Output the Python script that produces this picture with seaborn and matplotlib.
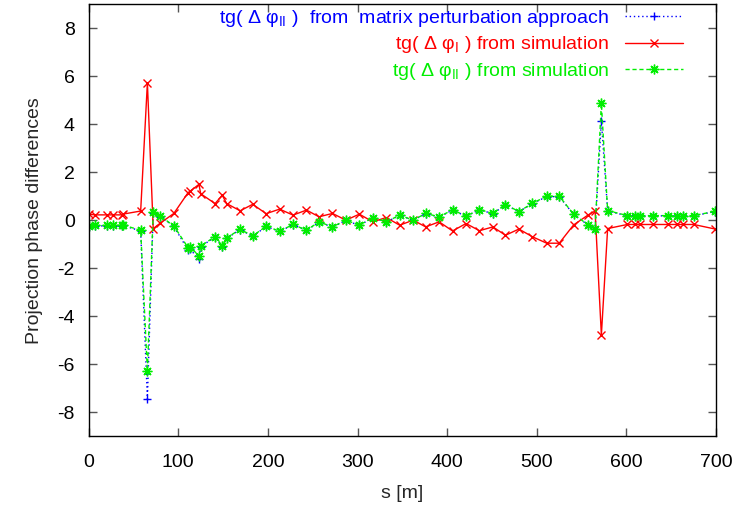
import numpy as np
import pandas as pd
import matplotlib
matplotlib.use("Agg")
import matplotlib.pyplot as plt
import seaborn as sns

# positions along the beamline [m]
s = [0, 7, 20, 27, 37, 38, 58, 65.5, 72, 80, 95, 111, 113, 123, 125, 141, 149, 154,
     169, 183, 198, 213, 228, 243, 257, 272, 287, 302, 317, 332, 347, 362, 376, 391,
     406, 421, 436, 451, 465, 480, 495, 511, 525, 541, 557, 565, 572, 579, 601, 610,
     615, 630, 646, 656, 663, 675, 699]

# tg(dphi_I) from simulation
phi1_sim = [0.25, 0.22, 0.22, 0.22, 0.22, 0.25, 0.38, 5.72, -0.35, -0.12, 0.28, 1.15, 1.2,
            1.49, 1.1, 0.69, 1.04, 0.69, 0.39, 0.66, 0.27, 0.46, 0.21, 0.42, 0.14, 0.28,
            0.0, 0.25, -0.07, 0.11, -0.21, 0.0, -0.28, -0.07, -0.45, -0.14, -0.44, -0.28,
            -0.63, -0.37, -0.69, -0.96, -0.96, -0.2, 0.21, 0.38, -4.79, -0.35, -0.18,
            -0.18, -0.18, -0.18, -0.18, -0.18, -0.18, -0.18, -0.37]

# tg(dphi_II) from simulation
phi2_sim = [-0.25, -0.22, -0.22, -0.22, -0.22, -0.2, -0.42, -6.28, 0.32, 0.17, -0.24, -1.15,
            -1.1, -1.49, -1.07, -0.69, -1.07, -0.74, -0.38, -0.66, -0.25, -0.46, -0.18,
            -0.42, -0.07, -0.28, 0.0, -0.21, 0.11, -0.07, 0.21, 0.0, 0.28, 0.14, 0.43, 0.17,
            0.44, 0.28, 0.65, 0.36, 0.7, 1.0, 1.0, 0.25, -0.19, -0.37, 4.86, 0.4, 0.19,
            0.19, 0.19, 0.19, 0.19, 0.19, 0.19, 0.19, 0.37]

# tg(dphi_II) from matrix perturbation approach
phi2_mat = [-0.27, -0.24, -0.24, -0.24, -0.24, -0.22, -0.45, -7.46, 0.3, 0.15, -0.26, -1.25,
            -1.2, -1.63, -1.1, -0.7, -1.1, -0.76, -0.39, -0.68, -0.26, -0.47, -0.19,
            -0.43, -0.08, -0.29, -0.01, -0.22, 0.1, -0.08, 0.2, 0.0, 0.27, 0.13, 0.42, 0.16,
            0.43, 0.27, 0.64, 0.35, 0.69, 0.98, 0.98, 0.24, -0.2, -0.38, 4.14, 0.38, 0.18,
            0.18, 0.18, 0.18, 0.18, 0.18, 0.18, 0.18, 0.36]

lab_mat = "tg( Δ φ$_{\\rm II}$ )  from  matrix perturbation approach"
lab_s1 = "tg( Δ φ$_{\\rm I}$ ) from simulation"
lab_s2 = "tg( Δ φ$_{\\rm II}$ ) from simulation"

green = "#00ee00"
df = pd.DataFrame({"s": s, "mat": phi2_mat, "s1": phi1_sim, "s2": phi2_sim})

sns.set_style("ticks")
plt.rcParams["font.family"] = ["Liberation Sans", "DejaVu Sans"]
plt.rcParams["mathtext.fontset"] = "custom"
plt.rcParams["mathtext.rm"] = "Liberation Sans"
plt.rcParams["mathtext.it"] = "Liberation Sans:italic"
plt.rcParams["axes.unicode_minus"] = False

fig, ax = plt.subplots(figsize=(7.39, 5.12), dpi=100)
fig.subplots_adjust(left=0.120, right=0.969, top=0.992, bottom=0.148)

sns.lineplot(data=df, x="s", y="mat", ax=ax, color="blue", linestyle=(0, (1, 2)),
             linewidth=1, marker="+", markersize=6, markeredgewidth=1,
             markeredgecolor="blue", estimator=None, sort=False, label=lab_mat)
sns.lineplot(data=df, x="s", y="s1", ax=ax, color="red", linestyle="-",
             linewidth=1, marker="x", markersize=5.5, markeredgewidth=1,
             markeredgecolor="red", estimator=None, sort=False, label=lab_s1)
sns.lineplot(data=df, x="s", y="s2", ax=ax, color=green, linestyle=(0, (3, 2)),
             linewidth=1, marker=(8, 2, 0), markersize=7, markeredgewidth=1,
             markeredgecolor=green, estimator=None, sort=False, label=lab_s2)

ax.set_xlim(0, 700)
ax.set_ylim(-9, 9)
ax.set_xticks(range(0, 701, 100))
ax.set_yticks(range(-8, 9, 2))
ax.tick_params(direction="in", top=True, right=True, length=6, width=1,
               labelsize=14, colors="#555555", labelcolor="black")
ax.tick_params(axis="x", pad=13)
ax.tick_params(axis="y", pad=10)
for sp in ax.spines.values():
    sp.set_color("black")
    sp.set_linewidth(1)
ax.set_xlabel("s [m]", fontsize=14, labelpad=10)
ax.set_ylabel("Projection phase differences", fontsize=14, labelpad=10)

ax.legend(loc="upper right", markerfirst=False, frameon=False, fontsize=14,
          labelcolor=["blue", "red", green], handlelength=3.0,
          handletextpad=0.8, labelspacing=0.3, borderaxespad=0.0,
          bbox_to_anchor=(0.96, 1.01))

fig.savefig("out.png", dpi=100)
